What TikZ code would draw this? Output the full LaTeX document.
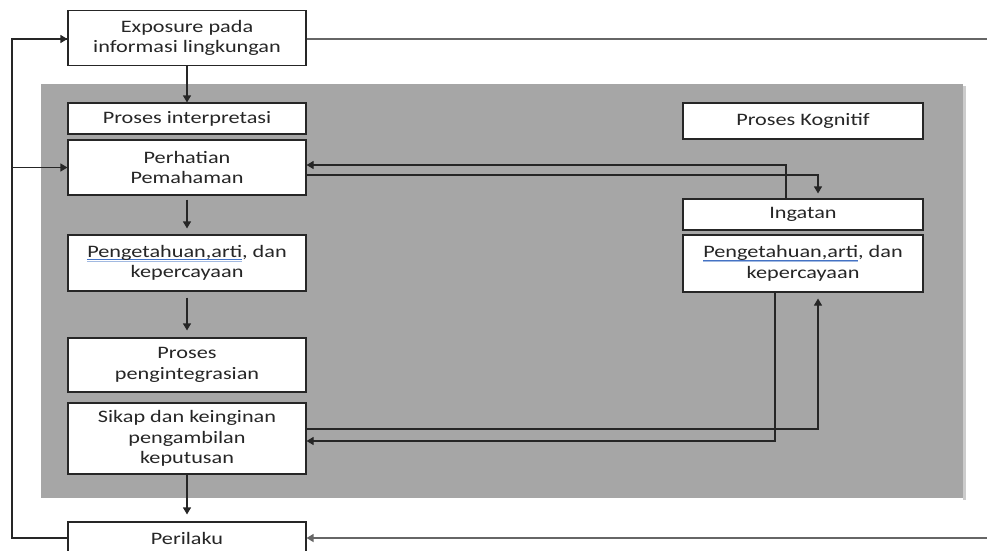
\documentclass[tikz,border=0pt]{standalone}
\usepackage{fontspec}
\setmainfont{Carlito}[FakeStretch=1.27]
\usetikzlibrary{arrows.meta}
\definecolor{bggray}{HTML}{A6A6A6}
\definecolor{ulblue}{HTML}{4472C4}
\newcommand\spellul[1]{\setbox0\hbox{#1}\leavevmode\rlap{\color{ulblue}\rule[-2.8pt]{\wd0}{0.8pt}}\rlap{\color{ulblue!50}\rule[-4pt]{\wd0}{0.7pt}}\box0}
\tikzset{
  box/.style={draw=black!85, line width=1.1pt, fill=white, minimum width=238pt, align=center, inner sep=0pt, font=\fontsize{17.5}{20.5}\selectfont, text=black!85},
  conn/.style={line width=1.1pt, draw=black!85},
  arr/.style={conn, -{Triangle[length=7pt,width=8pt]}},
  longl/.style={line width=1.3pt, draw=black!60}
}
\begin{document}
\begin{tikzpicture}[x=1pt,y=-1pt]
\useasboundingbox (0,0) rectangle (987,551);
\fill[black!20] (963,86) rectangle (966,500);
\fill[bggray] (41,84) rectangle (963,498);
\node[box, minimum height=55pt] (expo) at (187,38) {Exposure pada\\informasi lingkungan};
\node[box, minimum height=31pt] (interp) at (187,118.5) {Proses interpretasi};
\node[box, minimum height=55pt] (perh) at (187,167.5) {Perhatian\\Pemahaman};
\node[box, minimum height=56pt] (peng1) at (187,263) {\spellul{Pengetahuan,arti}, dan\\kepercayaan};
\node[box, minimum height=54pt] (integ) at (187,365) {Proses\\pengintegrasian};
\node[box, minimum height=71pt] (sikap) at (187,438.5) {Sikap dan keinginan\\pengambilan\\keputusan};
\node[box, minimum height=32pt] (peril) at (187,538) {Perilaku};
\node[box, minimum width=240pt, minimum height=36pt] (kog) at (803,121) {Proses Kognitif};
\node[box, minimum width=240pt, minimum height=31pt] (ingat) at (803,214.5) {Ingatan};
\node[box, minimum width=240pt, minimum height=57pt] (peng2) at (803,263.5) {\spellul{Pengetahuan,arti}, dan\\kepercayaan};
\coordinate (L) at (12,0);
\coordinate (R) at (987,0);
% main vertical flow
\draw[arr] (expo.south) -- (interp.north);
\draw[arr, shorten <=4pt, shorten >=6pt] (perh.south) -- (peng1.north);
\draw[arr, shorten <=6pt, shorten >=7pt] (peng1.south) -- (integ.north);
\draw[arr, shorten >=7pt] (sikap.south) -- (peril.north);
% left feedback loop
\draw[conn] (peril.west) -- (peril.west -| L) |- ([yshift=-1pt]expo.west);
\draw[arr] (peril.west -| L) |- ([yshift=-1pt]expo.west);
\draw[arr] (perh.west -| L) -- (perh.west);
% right long lines
\draw[longl] ([yshift=-1pt]expo.east) -- ([yshift=-1pt]expo.east -| R);
\draw[longl, -{Triangle[length=7pt,width=8pt]}] (peril.east -| R) -- (peril.east);
% cognitive links
\draw[arr, shorten >=5pt] ([yshift=-7.5pt]perh.east) -| ([xshift=15pt]ingat.north);
\draw[arr] ([xshift=-17pt]ingat.north) |- ([yshift=2.5pt]perh.east);
\draw[arr] ([xshift=-28pt]peng2.south) |- ([yshift=-2.5pt]sikap.east);
\draw[arr, shorten >=6pt] ([yshift=9.5pt]sikap.east) -| ([xshift=15pt]peng2.south);
\end{tikzpicture}
\end{document}
